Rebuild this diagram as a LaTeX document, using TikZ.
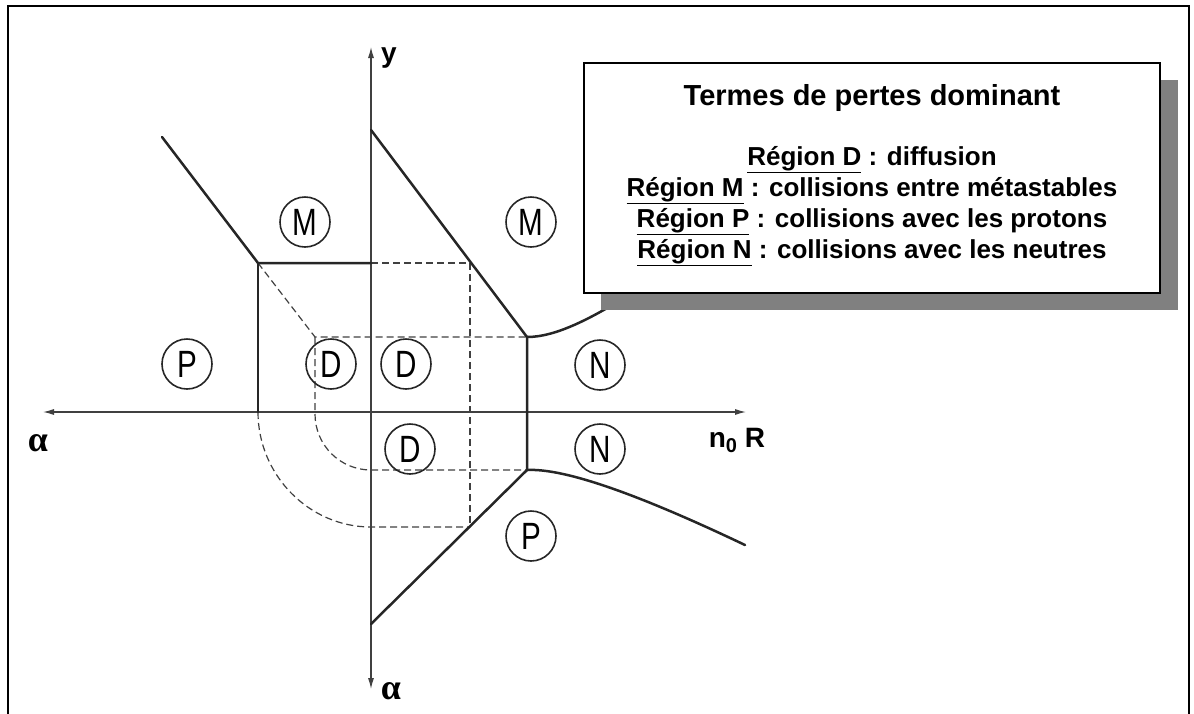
\documentclass[tikz,border=0pt]{standalone}
\usepackage{fontspec}
\setmainfont{Liberation Sans}
\newfontfamily\greekfont{Liberation Serif}
\usetikzlibrary{arrows.meta}
\begin{document}
\begin{tikzpicture}[x=1pt,y=-1pt,
  region/.style={line width=2.5pt,draw=black!85,line cap=round,line join=round},
  guide/.style={line width=1.2pt,draw=black!75,dash pattern=on 7pt off 4pt},
  axis/.style={line width=1.2pt,draw=black!75,-{Latex[length=11pt,width=6pt]}},
  zone/.style={circle,draw=black!85,line width=1.6pt,minimum size=50pt,inner sep=0pt,
    font=\fontsize{38}{38}\selectfont},
  legend/.style={draw=black,line width=1.8pt,fill=white},
  shadow/.style={fill=black!50,draw=none},
  axlabel/.style={font=\fontsize{28}{28}\selectfont\bfseries,inner sep=0pt},
  alphalabel/.style={font=\fontsize{36}{36}\selectfont\greekfont\bfseries,inner sep=0pt}]
\useasboundingbox (0,0) rectangle (1194,713);
\begin{scope}
\clip (0,0) rectangle (1194,713);
\draw[line width=2.5pt] (8,730) -- (8,6) -- (1189,6) -- (1189,730);
\end{scope}

% key coordinates
\coordinate (O) at (371,412);
\coordinate (ytop) at (371,47);
\coordinate (ybot) at (371,689);
\coordinate (xleft) at (43,412);
\coordinate (xright) at (746,412);
\coordinate (ULa) at (162,137);
\coordinate (ULb) at (258,263);
\coordinate (Yh) at (371,263);
\coordinate (ULc) at (258,412);
\coordinate (URa) at (371,130);
\coordinate (URb) at (527,337);
\coordinate (LRb) at (527,470);
\coordinate (LRa) at (371,624);
\coordinate (Ce) at (640,288);
\coordinate (Ne) at (745,545);
\coordinate (Q1) at (470,263);
\coordinate (Q2) at (470,527);
\coordinate (I1) at (315,337);
\coordinate (I2) at (315,414);
\coordinate (I3) at (371,470);
\coordinate (O2) at (371,527);

% dashed guides
\draw[guide] (Yh) -- (Q1) -- (Q2);
\draw[guide] (ULb) -- (I1) -- (URb);
\draw[guide] (I1) -- (I2) .. controls (315,445) and (340,470) .. (I3) -- (LRb);
\draw[guide] (ULc) .. controls (258,475) and (309,527) .. (O2) -- (Q2);

% axes
\draw[axis] (O) -- (ytop);
\draw[axis] (O) -- (ybot);
\draw[axis] (O) -- (xleft);
\draw[axis] (O) -- (xright);

% region boundaries
\draw[region] (ULa) -- (ULb) -- (Yh);
\draw[region] (ULb) -- (ULc);
\draw[region] (URa) -- (URb) -- (LRb) -- (LRa);
\draw[region] (URb) .. controls (555,337) and (590,320) .. (Ce);
\draw[region] (LRb) .. controls (565,468) and (640,495) .. (Ne);

% zone labels
\node[zone] (M1) at (305,222) {\scalebox{0.78}[1]{M}};
\node[zone] (M2) at (531,222) {\scalebox{0.78}[1]{M}};
\node[zone] (P1) at (187,364) {\scalebox{0.78}[1]{P}};
\node[zone] (D1) at (331,364) {\scalebox{0.78}[1]{D}};
\node[zone] (D2) at (406,364) {\scalebox{0.78}[1]{D}};
\node[zone] (D3) at (410,449) {\scalebox{0.78}[1]{D}};
\node[zone] (N1) at (600,365) {\scalebox{0.78}[1]{N}};
\node[zone] (N2) at (600,449) {\scalebox{0.78}[1]{N}};
\node[zone] (P2) at (531,536) {\scalebox{0.78}[1]{P}};

% axis labels
\node[axlabel] (ylab) at (389,58) {y};
\node[axlabel] (xlab) at (737,440) {n\raisebox{-5pt}{\fontsize{20}{20}\selectfont 0} R};
\node[alphalabel] (al1) at (38,443) {α};
\node[alphalabel] (al2) at (391,691) {α};

% legend
\fill[shadow] (601,80) rectangle (1178,310);
\draw[legend] (584,63) rectangle (1160,293);
\node[font=\fontsize{29}{29}\selectfont\bfseries] (title) at (872,98) {Termes de pertes dominant};
\node[font=\fontsize{26}{31}\selectfont\bfseries,align=center] (body) at (872,206)
  {\underline{Région D} : diffusion\\
   \underline{Région M} : collisions entre métastables\\
   \underline{Région P} : collisions avec les protons\\
   \underline{Région N} : collisions avec les neutres};
\end{tikzpicture}
\end{document}
